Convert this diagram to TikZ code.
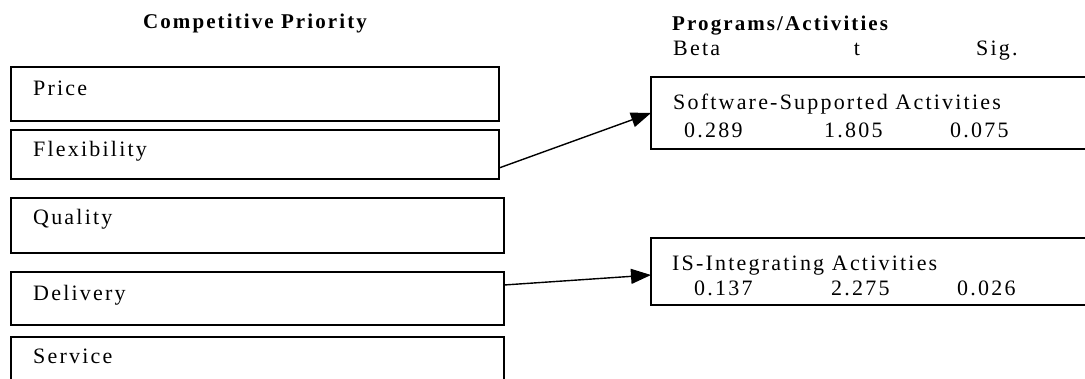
\documentclass[tikz,border=0pt]{standalone}
\usepackage{fontspec}
\setmainfont{Liberation Serif}[LetterSpace=10]
\usetikzlibrary{arrows.meta}
\begin{document}
\begin{tikzpicture}[x=1pt,y=-1pt,
  box/.style={draw,line width=1.4pt,inner sep=0pt,outer sep=0pt,anchor=north west},
  lbl/.style={inner sep=0pt,anchor=base west,font=\fontsize{22}{26}\selectfont},
  hdr/.style={inner sep=0pt,anchor=base,font=\fontsize{21}{25}\selectfont\bfseries},
  conn/.style={line width=1.4pt,-{Triangle[length=20pt,width=15pt]}}]
\useasboundingbox (0,0) rectangle (1085,378);
\clip (0,0) rectangle (1085,378);
% headers
\node[hdr] (h1) at (255,28) {Competitive Priority};
\node[hdr,anchor=base west] (h2) at (672,30) {Programs/Activities};
\node[lbl] (hb) at (673,55) {Beta};
\node[lbl,anchor=base] (ht) at (857,55) {t};
\node[lbl] (hs) at (976,55) {Sig.};
% left boxes
\node[box,minimum width=488pt,minimum height=54pt] (price) at (11,67) {};
\node[box,minimum width=488pt,minimum height=49pt] (flex) at (11,130) {};
\node[box,minimum width=493pt,minimum height=55pt] (qual) at (11,198) {};
\node[box,minimum width=493pt,minimum height=53pt] (del) at (11,272) {};
\node[box,minimum width=493pt,minimum height=60pt] (serv) at (11,337) {};
\node[lbl] (tprice) at (33,95) {Price};
\node[lbl] (tflex) at (33,156) {Flexibility};
\node[lbl] (tqual) at (33,224) {Quality};
\node[lbl] (tdel) at (33,300) {Delivery};
\node[lbl] (tserv) at (33,363) {Service};
% right boxes
\node[box,minimum width=450pt,minimum height=72pt] (sw) at (651,77) {};
\node[box,minimum width=450pt,minimum height=67pt] (is) at (651,238) {};
\node[lbl] (tsw) at (673,109) {Software-Supported Activities};
\node[lbl] (sw1) at (684,137) {0.289};
\node[lbl] (sw2) at (824,137) {1.805};
\node[lbl] (sw3) at (950,137) {0.075};
\node[lbl] (tis) at (672,270) {IS-Integrating Activities};
\node[lbl] (is1) at (694,295) {0.137};
\node[lbl] (is2) at (831,295) {2.275};
\node[lbl] (is3) at (957,295) {0.026};
% connectors
\draw[conn] ([yshift=11pt]flex.south east) -- ([yshift=-36pt]sw.north west);
\draw[conn] ([yshift=-13pt]del.north east) -- ([yshift=-37pt]is.north west);
\end{tikzpicture}
\end{document}
